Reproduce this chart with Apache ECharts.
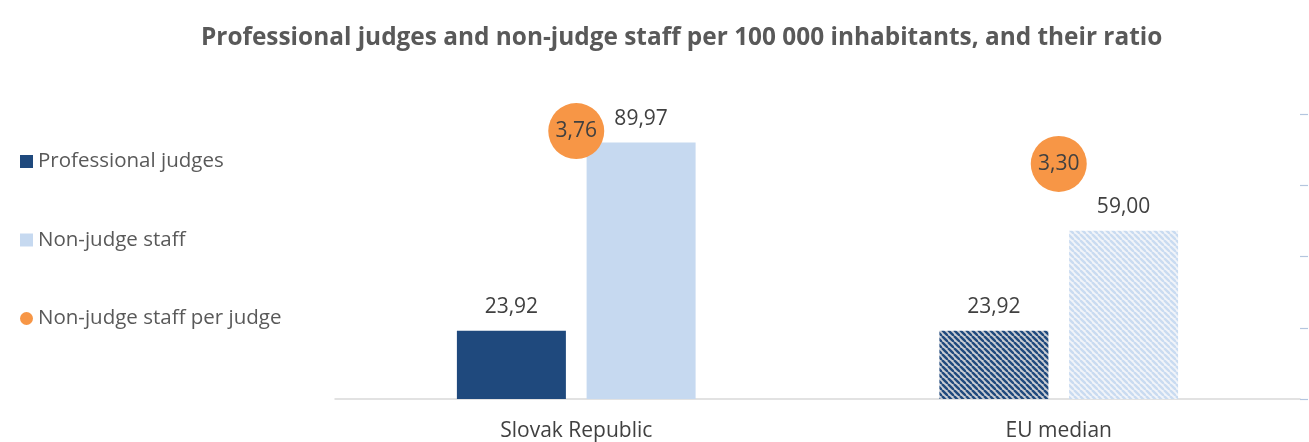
<!DOCTYPE html>
<html><head><meta charset="utf-8">
<script src="https://cdn.jsdelivr.net/npm/echarts@6/dist/echarts.min.js"></script>
<style>html,body{margin:0;padding:0;background:#fff}#c{width:1309px;height:442px}</style>
</head><body><div id="c"></div>
<script>
const categories = ['Slovak Republic', 'EU median'];
const judges = [23.92, 23.92];
const staff = [89.97, 59.00];
const ratio = [3.76, 3.30];
const seriesNames = ['Professional judges', 'Non-judge staff', 'Non-judge staff per judge'];

function stripe(bg, fg) {
  const c = document.createElement('canvas');
  c.width = 6; c.height = 6;
  const g = c.getContext('2d');
  g.fillStyle = bg; g.fillRect(0, 0, 6, 6);
  g.strokeStyle = fg; g.lineWidth = 2.4;
  for (let k = -6; k <= 12; k += 6) {
    g.beginPath(); g.moveTo(k, 0); g.lineTo(k + 6, 6); g.stroke();
  }
  return { image: c, repeat: 'repeat' };
}
const NAVY = '#1F497D', LIGHT = '#C6D9F0', ORANGE = '#F79646';
const navyPat = stripe('#c9ccd2', NAVY);
const lightPat = stripe('#f1f4f9', '#c9dbf1');
const fmt = p => p.value.toFixed(2).replace('.', ',');
const font = '"Open Sans", sans-serif';

const chart = echarts.init(document.getElementById('c'));
chart.setOption({
  animation: false,
  title: { text: 'Professional judges and non-judge staff per 100 000 inhabitants, and their ratio', left: 201, top: 26, padding: 0,
    textStyle: { fontFamily: font, fontSize: 24.4, fontWeight: 'bold', color: '#595959' } },
  legend: { orient: 'vertical', left: 20, top: 151, padding: 0, itemGap: 57.5, itemWidth: 13, itemHeight: 13,
    textStyle: { fontFamily: font, fontSize: 20.5, color: '#595959' },
    data: [{ name: seriesNames[0], icon: 'rect' }, { name: seriesNames[1], icon: 'rect' }, { name: seriesNames[2], icon: 'circle' }] },
  grid: { left: 335, right: 9, top: 114, bottom: 43 },
  xAxis: { type: 'category', data: categories,
    axisLine: { lineStyle: { color: '#d9d9d9', width: 1.5 } }, axisTick: { show: false },
    axisLabel: { fontFamily: font, fontSize: 21, color: '#404040', margin: 22 } },
  yAxis: [
    { type: 'value', min: 0, max: 100, interval: 25, show: false },
    { type: 'value', min: 0, max: 4, interval: 1, position: 'right', splitLine: { show: false },
      axisLine: { show: false }, axisLabel: { show: false },
      axisTick: { show: true, length: 8, lineStyle: { color: '#b4c6df', width: 1.2 } } }
  ],
  series: [
    { name: seriesNames[0], type: 'bar', barWidth: 109, barGap: '19%',
      itemStyle: { color: NAVY },
      data: judges.map((v, i) => i === 1 ? { value: v, itemStyle: { color: navyPat } } : v),
      label: { show: true, position: 'top', distance: 13, formatter: fmt, fontFamily: font, fontSize: 21, color: '#404040' } },
    { name: seriesNames[1], type: 'bar', barWidth: 109,
      itemStyle: { color: LIGHT },
      data: staff.map((v, i) => i === 1 ? { value: v, itemStyle: { color: lightPat } } : v),
      label: { show: true, position: 'top', distance: 13, formatter: fmt, fontFamily: font, fontSize: 21, color: '#404040' } },
    { name: seriesNames[2], type: 'scatter', yAxisIndex: 1, symbolSize: 56, z: 5,
      itemStyle: { color: ORANGE, opacity: 1 },
      data: ratio,
      label: { show: true, position: 'inside', formatter: fmt, fontFamily: font, fontSize: 21, color: '#404040' } }
  ]
});
</script></body></html>
